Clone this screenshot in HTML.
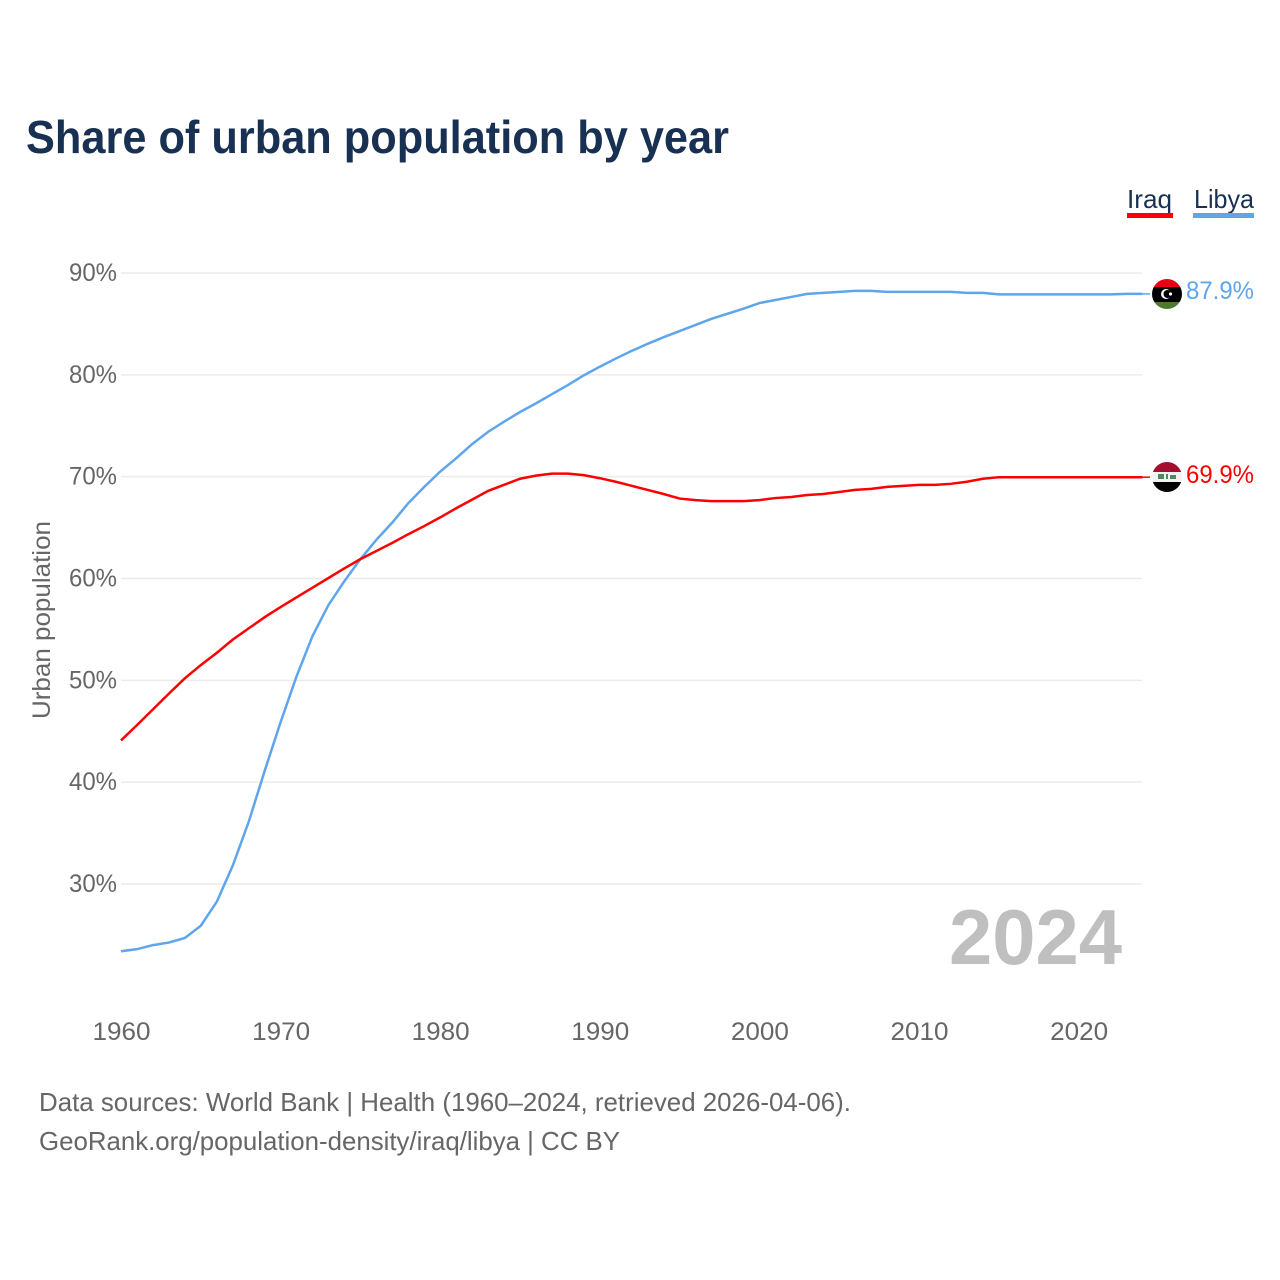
<!DOCTYPE html>
<html lang="en">
<head>
<meta charset="utf-8">
<title>Share of urban population by year</title>
<style>
html,body{margin:0;padding:0;background:#fff;width:1280px;height:1280px;overflow:hidden}
svg{display:block}
text{font-family:"Liberation Sans","DejaVu Sans",sans-serif}
</style>
</head>
<body>
<svg id="chart" xmlns="http://www.w3.org/2000/svg" width="1280" height="1280" viewBox="0 0 1280 1280">
  <defs>
    <clipPath id="libya-clip"><circle cx="1167" cy="294" r="15"/></clipPath>
    <clipPath id="iraq-clip"><circle cx="1167" cy="477" r="15"/></clipPath>
  </defs>
  <text x="26" y="153" font-size="46" font-weight="700" fill="#183153" textLength="703" lengthAdjust="spacingAndGlyphs">Share of urban population by year</text>

  <g id="grid"></g>
  <g id="y-ticks"></g>
  <g id="x-ticks"></g>
  <text transform="translate(50,719) rotate(-90)" font-size="25" fill="#666" textLength="198" lengthAdjust="spacingAndGlyphs">Urban population</text>

  <text x="949" y="964" font-size="78" font-weight="700" fill="#bfbfbf" textLength="173" lengthAdjust="spacingAndGlyphs">2024</text>

  <g id="series"></g>

  <g>
    <text x="1127" y="208" font-size="26" fill="#183153" textLength="45" lengthAdjust="spacingAndGlyphs">Iraq</text>
    <rect x="1127" y="213" width="46" height="5" fill="#ff0000"/>
  </g>
  <g>
    <text x="1194" y="208" font-size="26" fill="#183153" textLength="60" lengthAdjust="spacingAndGlyphs">Libya</text>
    <rect x="1193" y="213" width="61" height="5" fill="#5ea5ec"/>
  </g>

  <g clip-path="url(#libya-clip)">
    <rect x="1152" y="279" width="30" height="8" fill="#e70013"/>
    <rect x="1152" y="287" width="30" height="15" fill="#000"/>
    <rect x="1152" y="302" width="30" height="8" fill="#4d7a2c"/>
    <circle cx="1166" cy="294" r="5" fill="#fff"/>
    <circle cx="1167.5" cy="294" r="4" fill="#000"/>
    <circle cx="1170.5" cy="294" r="1.6" fill="#fff"/>
  </g>
  <g clip-path="url(#iraq-clip)">
    <rect x="1152" y="462" width="30" height="10" fill="#a50f2d"/>
    <rect x="1152" y="472" width="30" height="10" fill="#f2f2f2"/>
    <rect x="1152" y="482" width="30" height="10" fill="#000"/>
    <rect x="1158" y="474" width="6" height="5" fill="#4f8a5f"/>
    <rect x="1166" y="474" width="2" height="5" fill="#4f8a5f"/>
    <rect x="1170" y="475" width="6" height="4" fill="#4f8a5f"/>
  </g>

  <text x="1186" y="299" font-size="25" fill="#5ea5ec" textLength="68" lengthAdjust="spacingAndGlyphs">87.9%</text>
  <text x="1186" y="483" font-size="25" fill="#ff0000" textLength="68" lengthAdjust="spacingAndGlyphs">69.9%</text>

  <text x="39" y="1111" font-size="26" fill="#666" textLength="812" lengthAdjust="spacingAndGlyphs">Data sources: World Bank | Health (1960–2024, retrieved 2026-04-06).</text>
  <text x="39" y="1150" font-size="26" fill="#666" textLength="581" lengthAdjust="spacingAndGlyphs">GeoRank.org/population-density/iraq/libya | CC BY</text>
</svg>
<script>
const years = [1960,1961,1962,1963,1964,1965,1966,1967,1968,1969,1970,1971,1972,1973,1974,1975,1976,1977,1978,1979,1980,1981,1982,1983,1984,1985,1986,1987,1988,1989,1990,1991,1992,1993,1994,1995,1996,1997,1998,1999,2000,2001,2002,2003,2004,2005,2006,2007,2008,2009,2010,2011,2012,2013,2014,2015,2016,2017,2018,2019,2020,2021,2022,2023,2024];
const iraqValues = [44.1,45.6,47.15,48.7,50.2,51.5,52.7,54.0,55.1,56.2,57.2,58.15,59.1,60.05,61.0,61.9,62.7,63.5,64.35,65.15,66.0,66.9,67.75,68.6,69.2,69.8,70.1,70.3,70.3,70.15,69.85,69.5,69.1,68.7,68.3,67.85,67.7,67.6,67.6,67.6,67.7,67.9,68.0,68.2,68.3,68.5,68.7,68.8,69.0,69.1,69.2,69.2,69.3,69.5,69.8,69.95,69.95,69.95,69.95,69.95,69.95,69.95,69.95,69.95,69.95];
const libyaValues = [23.4,23.6,24.0,24.25,24.7,25.9,28.25,31.8,36.1,41.1,45.9,50.4,54.35,57.4,59.75,61.9,63.8,65.5,67.4,69.0,70.5,71.8,73.2,74.4,75.4,76.35,77.2,78.1,79.0,79.95,80.8,81.6,82.35,83.05,83.7,84.3,84.9,85.5,86.0,86.5,87.05,87.35,87.65,87.95,88.05,88.15,88.25,88.25,88.15,88.15,88.15,88.15,88.15,88.05,88.05,87.9,87.9,87.9,87.9,87.9,87.9,87.9,87.9,87.95,87.95];
const yTickValues = [30,40,50,60,70,80,90];
const xTickValues = [1960,1970,1980,1990,2000,2010,2020];

const NS = 'http://www.w3.org/2000/svg';
function xScale(year){ return 121 + (year - 1960) * 15.96; }
function yScale(v){ return 884 - (v - 30) * 10.183; }

const grid = document.getElementById('grid');
const yAxis = document.getElementById('y-ticks');
const xAxis = document.getElementById('x-ticks');
const seriesGroup = document.getElementById('series');

yTickValues.forEach(function(v){
  const line = document.createElementNS(NS,'line');
  
  
  line.setAttribute('x1', 121);
  line.setAttribute('x2', 1142);
  line.setAttribute('y1', yScale(v));
  line.setAttribute('y2', yScale(v));
  line.setAttribute('stroke', '#ebebeb');
  line.setAttribute('stroke-width', '1.5');
  grid.appendChild(line);

  const label = document.createElementNS(NS,'text');
  
  
  label.setAttribute('x', 69);
  label.setAttribute('y', yScale(v) + 8);
  label.setAttribute('font-size', '25');
  label.setAttribute('fill', '#666');
  label.setAttribute('textLength', '48');
  label.setAttribute('lengthAdjust', 'spacingAndGlyphs');
  label.textContent = v + '%';
  yAxis.appendChild(label);
});

xTickValues.forEach(function(y){
  const label = document.createElementNS(NS,'text');
  
  
  label.setAttribute('x', xScale(y) - 28.5);
  label.setAttribute('y', 1040);
  label.setAttribute('font-size', '25');
  label.setAttribute('fill', '#666');
  label.setAttribute('textLength', '58');
  label.setAttribute('lengthAdjust', 'spacingAndGlyphs');
  label.textContent = y;
  xAxis.appendChild(label);
});

function linePoints(values){
  return values.map(function(v,i){ return xScale(years[i]).toFixed(2) + ',' + yScale(v).toFixed(2); }).join(' ');
}
function lastY(values){ return yScale(values[values.length-1]); }

const libyaLine = document.createElementNS(NS,'polyline');


libyaLine.setAttribute('points', linePoints(libyaValues));
libyaLine.setAttribute('fill', 'none');
libyaLine.setAttribute('stroke', '#5ea5ec');
libyaLine.setAttribute('stroke-width', '2.5');
seriesGroup.appendChild(libyaLine);

const libyaLeader = document.createElementNS(NS,'line');


libyaLeader.setAttribute('x1', xScale(2024));
libyaLeader.setAttribute('x2', 1150);
libyaLeader.setAttribute('y1', lastY(libyaValues));
libyaLeader.setAttribute('y2', lastY(libyaValues));
libyaLeader.setAttribute('stroke', '#5ea5ec');
libyaLeader.setAttribute('stroke-width', '1.5');
seriesGroup.appendChild(libyaLeader);

const iraqLine = document.createElementNS(NS,'polyline');


iraqLine.setAttribute('points', linePoints(iraqValues));
iraqLine.setAttribute('fill', 'none');
iraqLine.setAttribute('stroke', '#ff0000');
iraqLine.setAttribute('stroke-width', '2.5');
seriesGroup.appendChild(iraqLine);

const iraqLeader = document.createElementNS(NS,'line');


iraqLeader.setAttribute('x1', xScale(2024));
iraqLeader.setAttribute('x2', 1150);
iraqLeader.setAttribute('y1', lastY(iraqValues));
iraqLeader.setAttribute('y2', lastY(iraqValues));
iraqLeader.setAttribute('stroke', '#ff0000');
iraqLeader.setAttribute('stroke-width', '1.5');
seriesGroup.appendChild(iraqLeader);
</script>
</body>
</html>
